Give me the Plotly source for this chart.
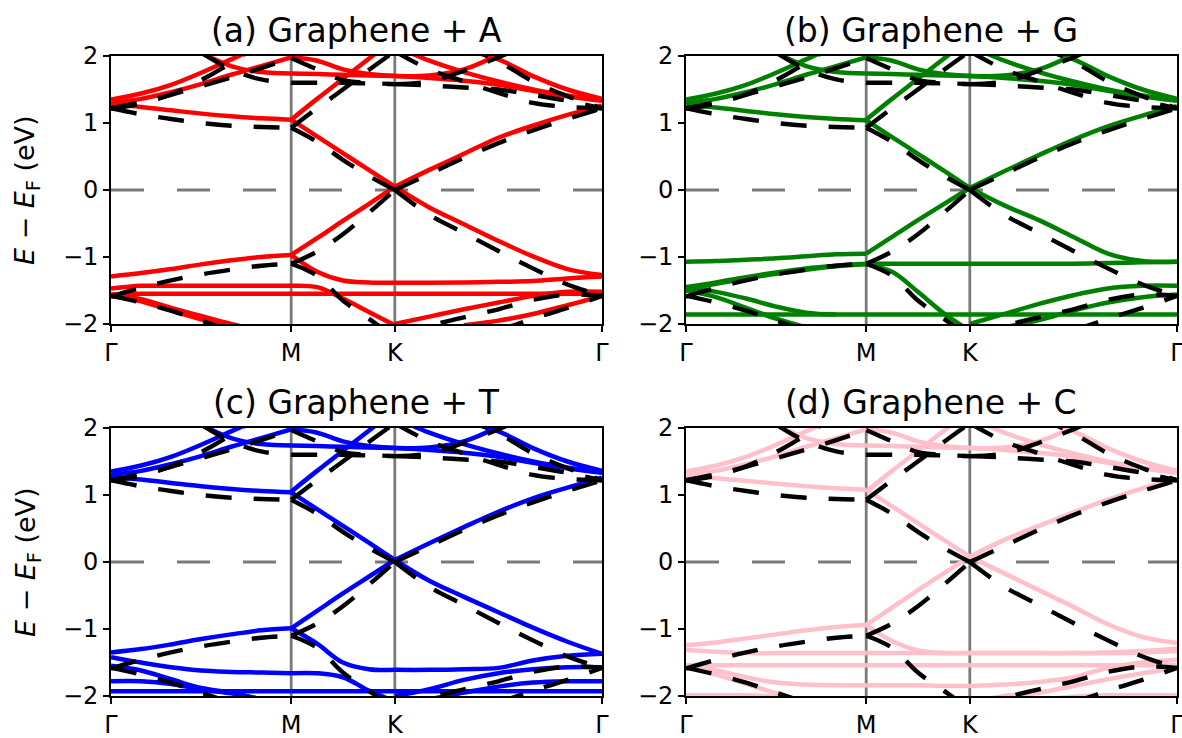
import plotly.graph_objects as go

_ = None

# k-path sampling, as a fraction of the Γ–M–K–Γ path length
K_PATH = [0.0, 0.0612, 0.1223, 0.1835, 0.2447, 0.3058, 0.367,
          0.4197, 0.4723, 0.525, 0.578,
          0.6483, 0.7187, 0.789, 0.8593, 0.9297, 1.0]
NODE_IDX = [0, 6, 10, 16]          # Γ, M, K, Γ positions in K_PATH
NODE_LABELS = ["Γ", "M", "K", "Γ"]
E_TICKS = [-2, -1, 0, 1, 2]
E_TICK_TEXT = ["−2", "−1", "0", "1", "2"]

# pristine graphene (supercell) bands, eV
PRISTINE = [
    [-1.59, -1.46, -1.35, -1.26, -1.19, -1.13, -1.10, -0.92, -0.66, -0.34, 0.00, 0.24, 0.48, 0.70, 0.89, 1.06, 1.22],
    [1.22, 1.13, 1.06, 1.00, 0.96, 0.94, 0.93, 0.72, 0.45, 0.21, 0.00, -0.37, -0.64, -0.91, -1.17, -1.41, -1.58],
    [1.22, 1.31, 1.42, 1.55, 1.68, 1.82, 1.97, 1.80, 1.64, 1.60, 1.58, 1.56, 1.53, 1.50, 1.42, 1.33, 1.22],
    [1.22, 1.29, 1.43, 1.64, 1.90, 2.20, _, _, _, _, _, _, _, _, _, _, _],
    [_, _, _, 2.05, 1.80, 1.65, 1.60, 1.60, 1.60, 1.59, 1.58, 1.62, 1.78, 1.98, 2.20, _, _],
    [_, _, _, _, _, _, 0.93, 1.22, 1.50, 1.79, 2.07, 1.80, 1.62, 1.45, 1.30, 1.24, 1.22],
    [_, _, _, _, _, _, _, _, _, _, _, _, 2.15, 1.92, 1.62, 1.40, 1.22],
    [-1.58, -1.68, -1.80, -1.95, -2.10, _, _, _, _, _, _, _, _, _, _, _, _],
    [_, _, _, _, _, _, -1.10, -1.28, -1.65, -1.92, -2.20, _, _, _, _, _, _],
    [_, _, _, _, _, _, _, _, _, _, -2.20, -2.03, -1.90, -1.78, -1.64, -1.56, -1.58],
    [_, _, _, _, _, _, _, _, _, _, _, _, _, -2.10, -1.92, -1.76, -1.58],
]

# adsorbed systems: conduction-side bands common to all four
UPPER = [
    [1.35, 1.44, 1.57, 1.75, 1.95, 2.15, _, _, _, _, _, _, _, _, _, _, _],
    [1.30, 1.36, 1.46, 1.58, 1.72, 1.85, 1.98, 1.93, 1.80, 1.73, 1.70, 1.67, 1.63, 1.57, 1.48, 1.40, 1.33],
    [_, _, _, 2.05, 1.85, 1.76, 1.74, 1.73, 1.72, 1.71, 1.70, 1.71, 1.80, 2.02, _, _, _],
    [_, _, _, _, _, _, 1.05, 1.36, 1.66, 1.96, 2.26, _, _, _, _, _, _],
    [_, _, _, _, _, _, _, _, _, _, 2.15, 1.93, 1.76, 1.62, 1.50, 1.41, 1.34],
    [_, _, _, _, _, _, _, _, _, _, _, _, 2.10, 1.95, 1.70, 1.50, 1.36],
]

# (a) Graphene + A
BANDS_A = [
    [1.28, 1.24, 1.19, 1.14, 1.10, 1.07, 1.05, 0.80, 0.55, 0.30, 0.05, -0.26, -0.51, -0.76, -0.99, -1.18, -1.27],
    [-1.29, -1.24, -1.18, -1.11, -1.05, -1.00, -0.97, -0.72, -0.46, -0.21, 0.05, 0.30, 0.54, 0.78, 0.96, 1.12, 1.26],
    [_, _, _, _, _, _, -0.97, -1.22, -1.35, -1.38, -1.385, -1.385, -1.38, -1.37, -1.36, -1.32, -1.29],
    [-1.47, -1.43, -1.43, -1.43, -1.43, -1.43, -1.43, -1.45, -1.62, -1.82, -2.02, _, _, _, _, _, _],
    [-1.56, -1.55, -1.55, -1.55, -1.55, -1.55, -1.55, -1.55, -1.55, -1.55, -1.55, -1.55, -1.55, -1.55, -1.55, -1.55, -1.54],
    [-1.56, -1.63, -1.76, -1.88, -2.00, -2.10, _, _, _, _, _, _, _, _, _, _, _],
    [-1.58, -1.66, -1.80, -1.93, -2.05, _, _, _, _, _, _, _, _, _, _, _, _],
    [_, _, _, _, _, _, _, _, _, _, -2.00, -1.89, -1.78, -1.68, -1.58, -1.52, -1.52],
    [_, _, _, _, _, _, _, _, _, _, _, _, -2.02, -1.95, -1.85, -1.72, -1.58],
]

# (b) Graphene + G
BANDS_G = [
    [1.27, 1.23, 1.18, 1.13, 1.09, 1.06, 1.04, 0.79, 0.54, 0.29, 0.03, -0.23, -0.45, -0.70, -0.95, -1.06, -1.07],
    [-1.07, -1.06, -1.04, -1.02, -0.99, -0.96, -0.95, -0.70, -0.45, -0.21, 0.03, 0.28, 0.52, 0.75, 0.95, 1.11, 1.25],
    [-1.45, -1.38, -1.30, -1.23, -1.17, -1.13, -1.10, -1.10, -1.10, -1.10, -1.10, -1.10, -1.10, -1.10, -1.09, -1.08, -1.07],
    [-1.48, -1.40, -1.32, -1.25, -1.19, -1.14, -1.11, -1.22, -1.52, -1.84, -2.10, _, _, _, _, _, _],
    [-1.86, -1.86, -1.86, -1.86, -1.86, -1.86, -1.86, -1.86, -1.86, -1.86, -1.86, -1.86, -1.86, -1.86, -1.86, -1.86, -1.86],
    [-1.50, -1.60, -1.76, -1.92, -2.05, _, _, _, _, _, _, _, _, _, _, _, _],
    [-1.46, -1.52, -1.62, -1.74, -1.83, -1.86, _, _, _, _, _, _, _, _, _, _, _],
    [_, _, _, _, _, _, _, _, _, _, -2.00, -1.85, -1.70, -1.57, -1.47, -1.43, -1.43],
    [_, _, _, _, _, _, _, _, _, _, _, -2.05, -1.94, -1.80, -1.68, -1.60, -1.56],
]

# (c) Graphene + T
BANDS_T = [
    [1.27, 1.23, 1.18, 1.13, 1.09, 1.06, 1.04, 0.79, 0.54, 0.29, 0.03, -0.28, -0.52, -0.75, -0.98, -1.19, -1.37],
    [-1.35, -1.30, -1.23, -1.15, -1.08, -1.02, -0.99, -0.73, -0.47, -0.22, 0.03, 0.28, 0.52, 0.75, 0.95, 1.11, 1.26],
    [_, _, _, _, _, _, -0.99, -1.22, -1.50, -1.60, -1.61, -1.61, -1.60, -1.58, -1.47, -1.40, -1.37],
    [-1.42, -1.50, -1.57, -1.62, -1.64, -1.65, -1.66, -1.66, -1.72, -1.92, -2.08, _, _, _, _, _, _],
    [-1.93, -1.93, -1.93, -1.93, -1.93, -1.93, -1.93, -1.93, -1.93, -1.93, -1.93, -1.93, -1.93, -1.93, -1.93, -1.93, -1.93],
    [-1.78, -1.78, -1.82, -1.90, -1.96, -2.05, _, _, _, _, _, _, _, _, _, _, _],
    [-1.55, -1.62, -1.75, -1.88, -1.95, -2.05, _, _, _, _, _, _, _, _, _, _, _],
    [_, _, _, _, _, _, _, _, _, _, -2.00, -1.90, -1.76, -1.66, -1.60, -1.57, -1.57],
    [_, _, _, _, _, _, _, _, _, _, _, -2.05, -1.95, -1.86, -1.80, -1.78, -1.78],
]

# (d) Graphene + C
BANDS_C = [
    [1.28, 1.25, 1.21, 1.17, 1.13, 1.10, 1.08, 0.83, 0.58, 0.33, 0.08, -0.17, -0.42, -0.67, -0.93, -1.12, -1.21],
    [-1.24, -1.20, -1.14, -1.08, -1.02, -0.97, -0.94, -0.68, -0.42, -0.17, 0.08, 0.33, 0.54, 0.74, 0.93, 1.10, 1.24],
    [_, _, _, _, _, _, -0.94, -1.18, -1.32, -1.36, -1.36, -1.36, -1.36, -1.36, -1.35, -1.33, -1.29],
    [-1.31, -1.34, -1.36, -1.36, -1.36, -1.36, -1.36, -1.36, -1.36, -1.36, -1.36, -1.36, -1.36, -1.36, -1.36, -1.35, -1.33],
    [-1.54, -1.54, -1.54, -1.54, -1.54, -1.54, -1.54, -1.54, -1.54, -1.54, -1.54, -1.54, -1.54, -1.54, -1.54, -1.54, -1.54],
    [-1.56, -1.62, -1.72, -1.80, -1.83, -1.84, -1.84, -1.84, -1.84, -1.85, -1.85, -1.83, -1.79, -1.72, -1.58, -1.50, -1.46],
    [_, _, _, _, _, _, _, _, _, _, -2.10, -2.00, -1.95, -1.85, -1.75, -1.66, -1.58],
    [-1.99, -1.99, -1.99, -2.01, -2.06, _, _, _, _, _, _, _, _, _, _, _, _],
    [_, _, _, _, _, _, _, _, _, _, _, _, -2.06, -2.01, -1.99, -1.99, -1.99],
    [-1.56, -1.68, -1.82, -1.96, -2.10, _, _, _, _, _, _, _, _, _, _, _, _],
]

PANELS = [
    ("(a) Graphene + A", "red", BANDS_A),
    ("(b) Graphene + G", "green", BANDS_G),
    ("(c) Graphene + T", "blue", BANDS_T),
    ("(d) Graphene + C", "pink", BANDS_C),
]

W, H = 1182, 738
X_PIX = [(111, 602), (686, 1177)]
Y_PIX = [(56, 324), (428, 696)]
FONT = "DejaVu Sans"


def band_paths(bands):
    """Split every band at the high-symmetry points; join pieces with gaps."""
    xs, ys = [], []
    for band in bands:
        for a, b in zip(NODE_IDX[:-1], NODE_IDX[1:]):
            pts = [(K_PATH[i], band[i]) for i in range(a, b + 1) if band[i] is not None]
            if len(pts) < 2:
                continue
            xs += [p[0] for p in pts] + [None]
            ys += [p[1] for p in pts] + [None]
    return xs, ys


fig = go.Figure()
layout = {}
shapes = []
annotations = []

for n, (title, color, bands) in enumerate(PANELS):
    row, col = divmod(n, 2)
    sfx = "" if n == 0 else str(n + 1)
    xa, ya = "x" + sfx, "y" + sfx
    x0, x1 = X_PIX[col]
    y0, y1 = Y_PIX[row]

    common = dict(
        ticks="outside", ticklen=6, tickwidth=1.6, tickcolor="black",
        showline=True, mirror=True, linecolor="black", linewidth=1.6,
        showgrid=False, zeroline=False, automargin=False,
        ticklabeloverflow="allow",
        tickfont=dict(family=FONT, size=24, color="black"),
    )
    layout["xaxis" + sfx] = dict(
        domain=[x0 / W, x1 / W], range=[0, 1], anchor=ya,
        tickmode="array", tickvals=[K_PATH[i] for i in NODE_IDX], ticktext=NODE_LABELS,
        **common,
    )
    layout["yaxis" + sfx] = dict(
        domain=[1 - y1 / H, 1 - y0 / H], range=[-2, 2], anchor=xa,
        tickmode="array", tickvals=E_TICKS, ticktext=E_TICK_TEXT,
        **common,
    )

    # high-symmetry verticals and Fermi level
    for i in NODE_IDX[1:-1]:
        shapes.append(dict(type="line", xref=xa, yref=ya + " domain",
                           x0=K_PATH[i], x1=K_PATH[i], y0=0, y1=1,
                           line=dict(color="#7a7a7a", width=2.8), layer="below"))
    shapes.append(dict(type="line", xref=xa + " domain", yref=ya,
                       x0=0, x1=1, y0=0, y1=0,
                       line=dict(color="#7a7a7a", width=3, dash="33px,33px"), layer="below"))

    xs, ys = band_paths(UPPER + bands)
    fig.add_trace(go.Scatter(
        x=xs, y=ys, xaxis=xa, yaxis=ya, mode="lines", showlegend=False,
        hoverinfo="skip",
        line=dict(color=color, width=4.5, shape="spline", smoothing=1.0),
    ))
    xs, ys = band_paths(PRISTINE)
    fig.add_trace(go.Scatter(
        x=xs, y=ys, xaxis=xa, yaxis=ya, mode="lines", showlegend=False,
        hoverinfo="skip",
        line=dict(color="black", width=4.4, dash="26px,22px", shape="spline", smoothing=1.0),
    ))

    annotations.append(dict(
        text=title, xref="paper", yref="paper",
        x=(x0 + x1) / 2 / W, y=1 - (y0 - 26) / H,
        xanchor="center", yanchor="middle", showarrow=False,
        font=dict(family=FONT, size=33, color="black"),
    ))
    if col == 0:
        annotations.append(dict(
            text="<i>E</i> − <i>E</i><sub>F</sub> (eV)", xref="paper", yref="paper",
            x=27 / W, y=1 - (y0 + y1) / 2 / H, textangle=-90,
            xanchor="center", yanchor="middle", showarrow=False,
            font=dict(family=FONT, size=27, color="black"),
        ))

fig.update_layout(
    template="none",
    width=W, height=H, autosize=False,
    margin=dict(l=0, r=0, t=0, b=0, pad=0),
    paper_bgcolor="white", plot_bgcolor="white",
    shapes=shapes, annotations=annotations,
    **layout,
)

fig.write_html("out.html")
